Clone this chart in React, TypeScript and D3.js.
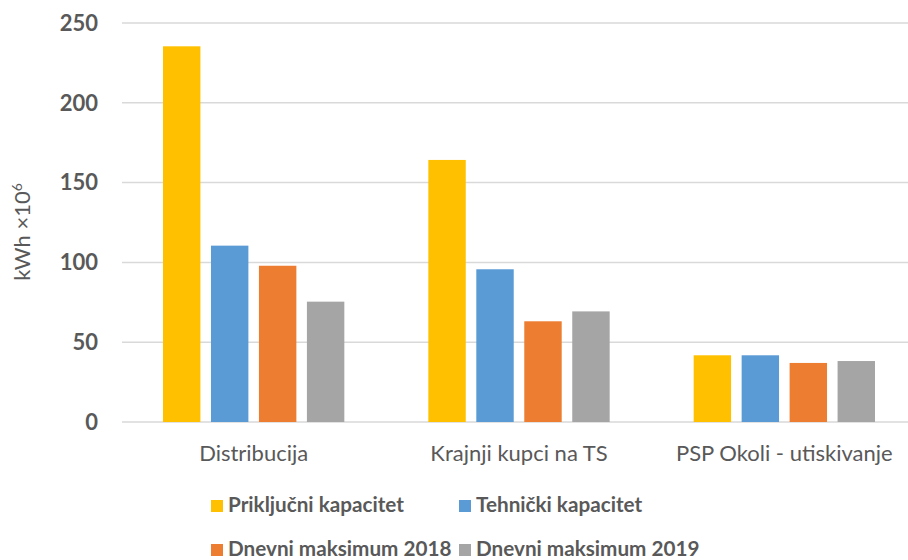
import React from 'react';
import * as d3 from 'd3';

const categories = ['Distribucija', 'Krajnji kupci na TS', 'PSP Okoli - utiskivanje'];
const seriesNames = ['Priključni kapacitet', 'Tehnički kapacitet', 'Dnevni maksimum 2018', 'Dnevni maksimum 2019'];
const seriesColors = ['#FFC000', '#5B9BD5', '#ED7D31', '#A5A5A5'];

const prikljucni = [235.4, 164.2, 41.8];
const tehnicki = [110.5, 95.7, 41.8];
const maks2018 = [97.9, 63.1, 37.0];
const maks2019 = [75.4, 69.3, 38.2];

const yTicks = [0, 50, 100, 150, 200, 250];

const W = 908;
const H = 560;
const FONT = "Lato, 'Open Sans', sans-serif";
const TEXT = '#595959';

const App = () => {
  const values = [prikljucni, tehnicki, maks2018, maks2019];

  const y = d3.scaleLinear().domain([0, 250]).range([422, 23]);
  const x0 = d3.scaleBand().domain(categories).range([121, 917]);
  const x1 = d3.scaleBand()
    .domain(seriesNames)
    .range([42, x0.bandwidth() - 42])
    .paddingInner(0.22);

  const legendPos = [
    { x: 211, y: 512 },
    { x: 459, y: 512 },
    { x: 211, y: 556 },
    { x: 459, y: 556 },
  ];

  return (
    <svg width={W} height={H} style={{ position: 'absolute', left: 0, top: 0, background: '#fff' }}>
      {/* grid */}
      {yTicks.map(t => (
        <line key={t} x1={122} x2={W} y1={y(t)} y2={y(t)} stroke="#D9D9D9" strokeWidth={1.5} />
      ))}
      {/* y tick labels */}
      {yTicks.map(t => (
        <text key={'l' + t} x={98} y={y(t)} dy="0.35em" textAnchor="end"
          fontFamily={FONT} fontWeight="bold" fontSize={22} fill={TEXT}>{t}</text>
      ))}
      {/* y title */}
      <text transform={`translate(30,232) rotate(-90)`} textAnchor="middle"
        fontFamily={FONT} fontSize={22} fill={TEXT}>
        kWh ×10<tspan dy="-8" fontSize={14}>6</tspan>
      </text>
      {/* bars */}
      {categories.map((c, ci) => (
        <g key={c} transform={`translate(${x0(c)},0)`}>
          {seriesNames.map((s, si) => (
            <rect key={s} x={x1(s)} width={x1.bandwidth()}
              y={y(values[si][ci])} height={y(0) - y(values[si][ci])}
              fill={seriesColors[si]} />
          ))}
        </g>
      ))}
      {/* category labels */}
      {categories.map(c => (
        <text key={'c' + c} x={(x0(c) as number) + x0.bandwidth() / 2} y={461} textAnchor="middle"
          fontFamily={FONT} fontSize={22} fill={TEXT}>{c}</text>
      ))}
      {/* legend */}
      {seriesNames.map((s, i) => (
        <g key={'lg' + s} transform={`translate(${legendPos[i].x},${legendPos[i].y})`}>
          <rect x={0} y={-12} width={12} height={12} fill={seriesColors[i]} />
          <text x={17} y={0} fontFamily={FONT} fontWeight="bold" fontSize={20.7} fill={TEXT}>{s}</text>
        </g>
      ))}
    </svg>
  );
};

export default App;
